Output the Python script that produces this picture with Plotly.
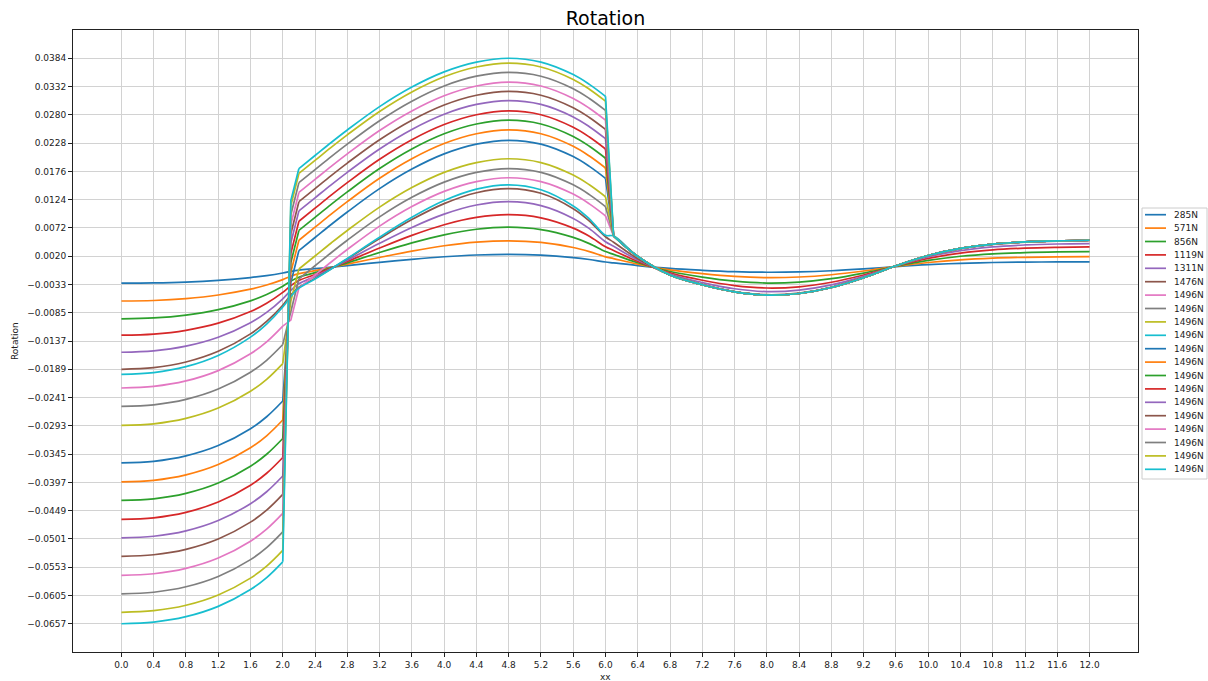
import plotly.graph_objects as go

# ---------------- data ----------------
x = [0.0, 0.4, 0.8, 1.2, 1.6, 1.8, 2.0, 2.1, 2.2, 2.4, 2.6, 2.8, 3.2, 3.6, 4.0, 4.4, 4.8, 5.2, 5.6, 5.8, 6.0,
     6.1, 6.4, 6.8, 7.2, 7.6, 8.0, 8.4, 8.8, 9.2, 9.6, 10.0, 10.4, 10.8, 11.2, 11.6, 12.0]

labels = ["285N", "571N", "856N", "1119N", "1311N", "1476N",
          "1496N", "1496N", "1496N", "1496N", "1496N", "1496N", "1496N",
          "1496N", "1496N", "1496N", "1496N", "1496N", "1496N", "1496N"]

colors = ["#1f77b4", "#ff7f0e", "#2ca02c", "#d62728", "#9467bd",
          "#8c564b", "#e377c2", "#7f7f7f", "#bcbd22", "#17becf"]

# which curves jump at x = 2.0 and x = 6.0 (the others are continuous)
has_jumps = [False, False, False, False, False, False, True, True, True, False,
             True, True, True, True, True, True, True, True, True, True]

# shared right-hand part (x >= 6.1) of the 1496N curves
tail_1496 = [0.0057, 0.0019, -0.0015, -0.0033, -0.0046, -0.0052, -0.0049, -0.0038, -0.0020,
             0.0002, 0.0021, 0.0034, 0.0042, 0.0046, 0.0048, 0.0049]

s01 = [-0.00301, -0.00296, -0.00280, -0.00248, -0.00197, -0.00161, -0.00113, -0.00083, -0.00060, -0.00034,
       -0.00006, 0.00023, 0.00083, 0.00139, 0.00186, 0.00218, 0.00230, 0.00216, 0.00171, 0.00135, 0.00089,
       0.00073, 0.00024, -0.00029, -0.00063, -0.00088, -0.00099, -0.00093, -0.00072, -0.00038, 0.00004,
       0.00040, 0.00065, 0.00080, 0.00088, 0.00091, 0.00093]
s02 = [-0.00629, -0.00619, -0.00584, -0.00518, -0.00411, -0.00335, -0.00235, -0.00173, -0.00125, -0.00071,
       -0.00012, 0.00049, 0.00173, 0.00290, 0.00388, 0.00455, 0.00480, 0.00451, 0.00357, 0.00281, 0.00185,
       0.00152, 0.00050, -0.00057, -0.00126, -0.00176, -0.00198, -0.00187, -0.00145, -0.00076, 0.00008,
       0.00080, 0.00130, 0.00160, 0.00176, 0.00183, 0.00187]
s03 = [-0.00956, -0.00941, -0.00888, -0.00788, -0.00626, -0.00510, -0.00358, -0.00263, -0.00190, -0.00107,
       -0.00018, 0.00074, 0.00264, 0.00441, 0.00590, 0.00692, 0.00730, 0.00686, 0.00542, 0.00428, 0.00281,
       0.00230, 0.00076, -0.00086, -0.00189, -0.00263, -0.00298, -0.00280, -0.00217, -0.00114, 0.00011,
       0.00120, 0.00195, 0.00240, 0.00263, 0.00275, 0.00280]
s04 = [-0.01258, -0.01237, -0.01168, -0.01037, -0.00823, -0.00670, -0.00470, -0.00346, -0.00250, -0.00141,
       -0.00024, 0.00098, 0.00347, 0.00580, 0.00776, 0.00910, 0.00960, 0.00902, 0.00713, 0.00563, 0.00370,
       0.00303, 0.00100, -0.00112, -0.00247, -0.00344, -0.00389, -0.00367, -0.00284, -0.00150, 0.00015,
       0.00157, 0.00254, 0.00314, 0.00344, 0.00359, 0.00367]
s05 = [-0.01572, -0.01547, -0.01460, -0.01296, -0.01028, -0.00838, -0.00588, -0.00432, -0.00312, -0.00176,
       -0.00030, 0.00122, 0.00433, 0.00725, 0.00970, 0.01138, 0.01200, 0.01128, 0.00892, 0.00703, 0.00462,
       0.00379, 0.00125, -0.00131, -0.00289, -0.00403, -0.00456, -0.00429, -0.00333, -0.00175, 0.00018,
       0.00184, 0.00298, 0.00368, 0.00403, 0.00421, 0.00429]
s06 = [-0.01886, -0.01856, -0.01752, -0.01555, -0.01234, -0.01005, -0.00706, -0.00518, -0.00374, -0.00212,
       -0.00036, 0.00147, 0.00520, 0.00870, 0.01164, 0.01365, 0.01440, 0.01354, 0.01070, 0.00844, 0.00554,
       0.00454, 0.00150, -0.00148, -0.00326, -0.00454, -0.00513, -0.00483, -0.00375, -0.00197, 0.00020,
       0.00207, 0.00335, 0.00414, 0.00454, 0.00474, 0.00483]
s07 = [-0.0223, -0.0220, -0.0210, -0.0191, -0.0160, -0.0138, -0.0109,
       -0.0098, -0.0039, -0.0015, 0.0009, 0.0032, 0.0075, 0.0111, 0.0139, 0.0157, 0.0164, 0.0157, 0.0134,
       0.0116, 0.0094] + tail_1496
s08 = [-0.0257, -0.0254, -0.0244, -0.0225, -0.0194, -0.0172, -0.0143,
       -0.0081, -0.0022, 0.0002, 0.0026, 0.0049, 0.0092, 0.0128, 0.0156, 0.0174, 0.0181, 0.0174, 0.0151,
       0.0133, 0.0111] + tail_1496
s09 = [-0.0292, -0.0289, -0.0279, -0.0260, -0.0229, -0.0207, -0.0178,
       -0.0063, -0.0004, 0.0020, 0.0044, 0.0067, 0.0110, 0.0146, 0.0174, 0.0192, 0.0199, 0.0192, 0.0169,
       0.0151, 0.0129] + tail_1496
s10 = [-0.01978, -0.01946, -0.01838, -0.01631, -0.01294, -0.01054, -0.00740, -0.00544, -0.00393, -0.00222,
       -0.00038, 0.00154, 0.00545, 0.00912, 0.01220, 0.01431, 0.01510, 0.01419, 0.01122, 0.00885,
       0.00581] + tail_1496
s11 = [-0.0361, -0.0358, -0.0348, -0.0329, -0.0298, -0.0276, -0.0247,
       -0.0029, 0.0030, 0.0054, 0.0078, 0.0101, 0.0144, 0.0180, 0.0208, 0.0226, 0.0233, 0.0226, 0.0203,
       0.0185, 0.0163] + tail_1496
s12 = [-0.0396, -0.0393, -0.0383, -0.0364, -0.0333, -0.0311, -0.0282,
       -0.0010, 0.0049, 0.0073, 0.0097, 0.0120, 0.0163, 0.0199, 0.0227, 0.0245, 0.0252, 0.0245, 0.0222,
       0.0204, 0.0182] + tail_1496
s13 = [-0.0430, -0.0427, -0.0417, -0.0398, -0.0367, -0.0345, -0.0316,
       0.0008, 0.0067, 0.0091, 0.0115, 0.0138, 0.0181, 0.0217, 0.0245, 0.0263, 0.0270, 0.0263, 0.0240,
       0.0222, 0.0200] + tail_1496
s14 = [-0.0465, -0.0462, -0.0452, -0.0433, -0.0402, -0.0380, -0.0351,
       0.0025, 0.0084, 0.0108, 0.0132, 0.0155, 0.0198, 0.0234, 0.0262, 0.0280, 0.0287, 0.0280, 0.0257,
       0.0239, 0.0217] + tail_1496
s15 = [-0.0499, -0.0496, -0.0486, -0.0467, -0.0436, -0.0414, -0.0385,
       0.0044, 0.0103, 0.0127, 0.0151, 0.0174, 0.0217, 0.0253, 0.0281, 0.0299, 0.0306, 0.0299, 0.0276,
       0.0258, 0.0236] + tail_1496
s16 = [-0.0533, -0.0530, -0.0520, -0.0501, -0.0470, -0.0448, -0.0419,
       0.0061, 0.0120, 0.0144, 0.0168, 0.0191, 0.0234, 0.0270, 0.0298, 0.0316, 0.0323, 0.0316, 0.0293,
       0.0275, 0.0253] + tail_1496
s17 = [-0.0568, -0.0565, -0.0555, -0.0536, -0.0505, -0.0483, -0.0454,
       0.0078, 0.0137, 0.0161, 0.0185, 0.0208, 0.0251, 0.0287, 0.0315, 0.0333, 0.0340, 0.0333, 0.0310,
       0.0292, 0.0270] + tail_1496
s18 = [-0.0602, -0.0599, -0.0589, -0.0570, -0.0539, -0.0517, -0.0488,
       0.0096, 0.0155, 0.0179, 0.0203, 0.0226, 0.0269, 0.0305, 0.0333, 0.0351, 0.0358, 0.0351, 0.0328,
       0.0310, 0.0288] + tail_1496
s19 = [-0.0636, -0.0633, -0.0623, -0.0604, -0.0573, -0.0551, -0.0522,
       0.0113, 0.0172, 0.0196, 0.0220, 0.0243, 0.0286, 0.0322, 0.0350, 0.0368, 0.0375, 0.0368, 0.0345,
       0.0327, 0.0305] + tail_1496
s20 = [-0.0657, -0.0654, -0.0644, -0.0625, -0.0594, -0.0572, -0.0543,
       0.0122, 0.0181, 0.0205, 0.0229, 0.0252, 0.0295, 0.0331, 0.0359, 0.0377, 0.0384, 0.0377, 0.0354,
       0.0336, 0.0314] + tail_1496

series = [s01, s02, s03, s04, s05, s06, s07, s08, s09, s10,
          s11, s12, s13, s14, s15, s16, s17, s18, s19, s20]

x_tick_labels = ["0.0", "0.4", "0.8", "1.2", "1.6", "2.0", "2.4", "2.8", "3.2", "3.6", "4.0",
                 "4.4", "4.8", "5.2", "5.6", "6.0", "6.4", "6.8", "7.2", "7.6", "8.0", "8.4",
                 "8.8", "9.2", "9.6", "10.0", "10.4", "10.8", "11.2", "11.6", "12.0"]
y_tick_labels = ["\u22120.0657", "\u22120.0605", "\u22120.0553", "\u22120.0501", "\u22120.0449",
                 "\u22120.0397", "\u22120.0345", "\u22120.0293", "\u22120.0241", "\u22120.0189",
                 "\u22120.0137", "\u22120.0085", "\u22120.0033", "0.0020", "0.0072", "0.0124",
                 "0.0176", "0.0228", "0.0280", "0.0332", "0.0384"]
y_min, y_max = -0.0657, 0.0384

# ---------------- figure ----------------
W, H = 1208, 681
L, R, T, B = 73, 1138, 30, 652   # plot-area pixel box
FONT = "DejaVu Sans"
LW = 1.7

fig = go.Figure()


def add_piece(xs, ys, color, shape):
    fig.add_trace(go.Scatter(x=xs, y=ys, mode="lines", showlegend=False, hoverinfo="skip",
                             line=dict(color=color, width=LW, shape=shape, smoothing=1.0)))


# index boundaries in x: 0..6 -> x<=2.0, 6..8 -> 2.0-2.2 jump, 8..20 -> 2.2-6.0, 20..21 -> 6.0-6.1 jump
for i, ys in enumerate(series):
    c = colors[i % 10]
    if has_jumps[i]:
        add_piece(x[0:7], ys[0:7], c, "spline")
        add_piece(x[6:9], ys[6:9], c, "linear")
        add_piece(x[8:21], ys[8:21], c, "spline")
        add_piece(x[20:22], ys[20:22], c, "linear")
        add_piece(x[21:], ys[21:], c, "spline")
    else:
        add_piece(x, ys, c, "spline")

x_tick_vals = [float(t) for t in x_tick_labels]
step = (y_max - y_min) / (len(y_tick_labels) - 1)
y_tick_vals = [y_min + k * step for k in range(len(y_tick_labels))]
pad = 0.05 * (y_max - y_min)

axis_common = dict(showline=True, linecolor="#222222", linewidth=1, mirror=True,
                   ticks="outside", ticklen=4, tickcolor="#222222", tickwidth=1,
                   showgrid=True, gridcolor="#d2d2d2", gridwidth=1.3, zeroline=False,
                   tickfont=dict(family=FONT, size=9, color="#222222"))

fig.update_layout(
    width=W, height=H,
    margin=dict(l=L, r=W - R, t=T, b=H - B),
    paper_bgcolor="white", plot_bgcolor="white",
    title=dict(text="Rotation", x=(L + R) / 2 / W, xanchor="center", y=1 - 18 / H, yanchor="middle",
               font=dict(family=FONT, size=19, color="black")),
    xaxis=dict(range=[-0.6, 12.6], tickmode="array", tickvals=x_tick_vals, ticktext=x_tick_labels,
               **axis_common),
    yaxis=dict(range=[y_min - pad, y_max + pad], tickmode="array", tickvals=y_tick_vals,
               ticktext=y_tick_labels, **axis_common),
    showlegend=False,
    hovermode=False,
)


def px_x(p):
    return (p - L) / (R - L)


def px_y(p):
    return (B - p) / (B - T)


annotations = [
    dict(text="xx", xref="paper", yref="paper", x=0.5, y=px_y(670), xanchor="center", yanchor="top",
         showarrow=False, font=dict(family=FONT, size=9, color="#222222")),
    dict(text="Rotation", xref="paper", yref="paper", x=px_x(15), y=0.5, xanchor="center",
         yanchor="middle", textangle=-90, showarrow=False,
         font=dict(family=FONT, size=9, color="#222222")),
]
shapes = [
    dict(type="rect", xref="paper", yref="paper", x0=px_x(1142), x1=px_x(1207), y0=px_y(208),
         y1=px_y(479), line=dict(color="#cccccc", width=1), fillcolor="white", layer="above"),
]
for i, lab in enumerate(labels):
    yc = 214.7 + 13.4 * i
    shapes.append(dict(type="line", xref="paper", yref="paper", x0=px_x(1145), x1=px_x(1166),
                       y0=px_y(yc), y1=px_y(yc), line=dict(color=colors[i % 10], width=LW),
                       layer="above"))
    annotations.append(dict(text=lab, xref="paper", yref="paper", x=px_x(1172), y=px_y(yc),
                            xanchor="left", yanchor="middle", showarrow=False,
                            font=dict(family=FONT, size=9, color="#222222")))

fig.update_layout(annotations=annotations, shapes=shapes)
fig.write_html("out.html")
